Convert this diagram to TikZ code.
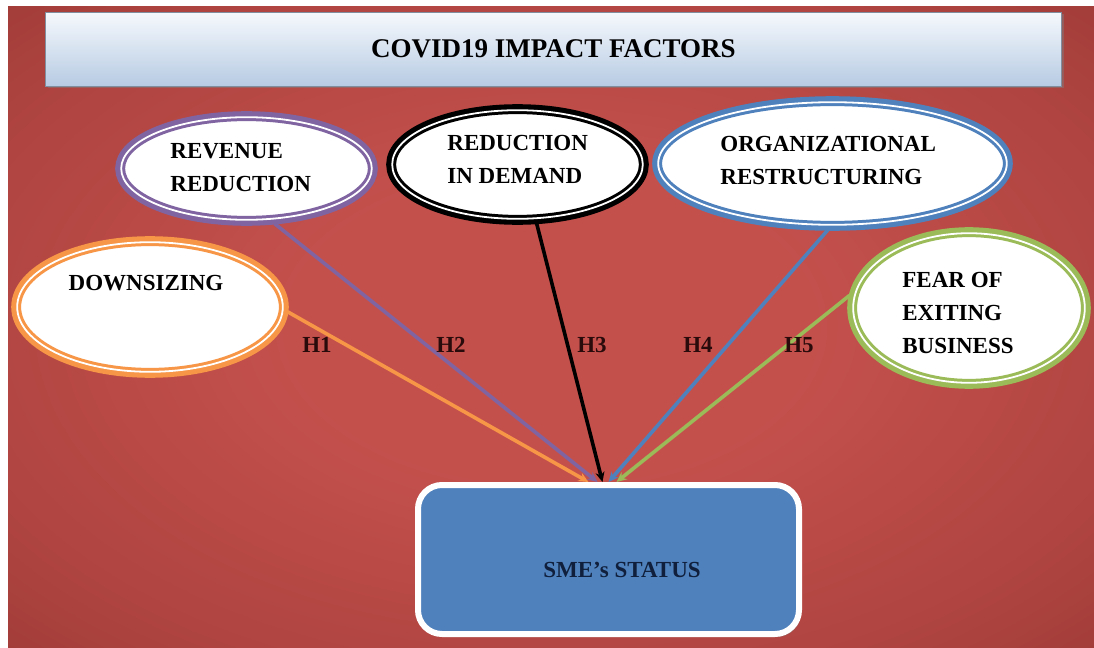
\documentclass[tikz,border=0pt]{standalone}
\usepackage{fontspec}
\setmainfont{Liberation Serif}
\usetikzlibrary{shapes.geometric,arrows.meta,calc,shadows}

\definecolor{bgin}{HTML}{C4504C}
\definecolor{bgout}{HTML}{963632}
\definecolor{titletop}{HTML}{F6F9FD}
\definecolor{titlebot}{HTML}{B7CBE3}
\definecolor{offorange}{HTML}{F79646}
\definecolor{offpurple}{HTML}{8064A2}
\definecolor{offblue}{HTML}{4F81BD}
\definecolor{offgreen}{HTML}{9BBB59}
\definecolor{smetext}{HTML}{10203C}
\definecolor{hypcol}{HTML}{2A0B0B}

\pgfdeclareradialshading{bgglow}{\pgfpoint{0bp}{0bp}}{%
  color(0bp)=(bgin); color(12bp)=(bgin);
  color(30bp)=(bgin!50!bgout); color(42bp)=(bgout); color(71bp)=(bgout)}

\begin{document}
\begin{tikzpicture}[x=0.5pt,y=-0.5pt,
    factor/.style={ellipse, draw=#1, fill=white, line width=1.5pt,
      double=white, double distance=0.9pt, outer sep=2.6pt,
      preaction={draw=#1, line width=6pt}},
    factortext/.style={align=left, inner sep=0pt,
      font=\bfseries\fontsize{11.5}{16.5}\selectfont},
    link/.style={draw=#1, line width=1.8pt,
      -{Stealth[length=5pt,width=4.5pt]}},
    hyp/.style={text=hypcol, font=\bfseries\fontsize{11.5}{14}\selectfont}]
   \useasboundingbox (0,0) rectangle (1094,648);
   \fill[white] (0,0) rectangle (1094,648);
   \shade[shading=bgglow] (8,6) rectangle (1094,648);

   % title bar
   \node[top color=titletop, bottom color=titlebot, draw=titlebot!70!black,
     line width=0.4pt, minimum width=508pt, minimum height=37pt,
     drop shadow={shadow xshift=1pt, shadow yshift=-1.2pt, opacity=0.45},
     font=\bfseries\fontsize{13.5}{16}\selectfont] (title) at (553.5,49)
     {COVID19 IMPACT FACTORS};

   % factors
   \node[factor=offorange, minimum width=132.8pt, minimum height=64.8pt] (down) at (150,307) {};
   \node[factor=offpurple, minimum width=125.3pt, minimum height=51.3pt] (rev) at (246.5,168.5) {};
   \node[factor=black, minimum width=125.3pt, minimum height=54.3pt] (dem) at (517.5,164.5) {};
   \node[factor=offblue, minimum width=174.3pt, minimum height=61.3pt] (org) at (832.5,163.5) {};
   \node[factor=offgreen, minimum width=115.8pt, minimum height=74.8pt] (fear) at (969,308) {};

   \node[factortext] (downtxt) at (146,283) {DOWNSIZING};
   \node[factortext, anchor=west] (revtxt) at (170,168) {REVENUE\\REDUCTION};
   \node[factortext, anchor=west] (demtxt) at (447,159.5) {REDUCTION\\IN DEMAND};
   \node[factortext, anchor=west] (orgtxt) at (720,160) {ORGANIZATIONAL\\RESTRUCTURING};
   \node[factortext, anchor=west] (feartxt) at (902,312.5) {FEAR OF\\EXITING\\BUSINESS};

   % dependent variable
   \node[fill=offblue, draw=white, line width=3pt, rounded corners=12pt,
     minimum width=190.5pt, minimum height=74.5pt,
     drop shadow={shadow xshift=1pt, shadow yshift=-1.5pt, opacity=0.45}] (sme) at (608.5,559.5) {};
   \node[text=smetext, font=\bfseries\fontsize{11.5}{14}\selectfont] (smetxt) at (622,570) {SME’s STATUS};

   % hypotheses
   \draw[link=offorange] (down.-2) to ($(sme.north)+(-20,0)$);
   \draw[link=offpurple] (rev.-63) to ($(sme.north)+(-11,0)$);
   \draw[link=offblue] (org.-94) to ($(sme.north)+(0,0)$);
   \draw[link=offgreen] (fear.174) to ($(sme.north)+(8,0)$);
   \draw[link=black] (dem.-72) to ($(sme.north)+(-6,0)$);

   \node[hyp] (h1) at (317,345) {H1};
   \node[hyp] (h2) at (451,345) {H2};
   \node[hyp] (h3) at (592,345) {H3};
   \node[hyp] (h4) at (698,345) {H4};
   \node[hyp] (h5) at (799,345) {H5};
 \end{tikzpicture}
\end{document}
